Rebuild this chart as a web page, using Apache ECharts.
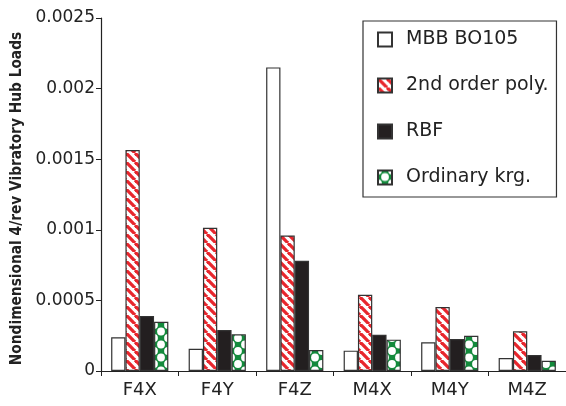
<!DOCTYPE html>
<html><head><meta charset="utf-8">
<script src="https://cdn.jsdelivr.net/npm/echarts@6/dist/echarts.min.js"></script>
<style>html,body{margin:0;padding:0;background:#fff}#c{width:566px;height:406px}</style>
</head><body><div id="c"></div>
<script>
const categories = ['F4X','F4Y','F4Z','M4X','M4Y','M4Z'];
const mbb = [0.000239, 0.000158, 0.00215, 0.000144, 0.000203, 0.000092];
const poly2 = [0.001565, 0.001015, 0.00096, 0.00054, 0.000453, 0.000281];
const rbf = [0.00039, 0.00029, 0.00078, 0.000257, 0.000227, 0.000113];
const krg = [0.000349, 0.00026, 0.000149, 0.000222, 0.00025, 0.000073];
const seriesNames = ['MBB BO105','2nd order poly.','RBF','Ordinary krg.'];
const yTickLabels = ['0','0.0005','0.001','0.0015','0.002','0.0025'];

function stripePattern(){
  const c = document.createElement('canvas'); c.width = 9; c.height = 9;
  const g = c.getContext('2d');
  g.fillStyle = '#fff'; g.fillRect(0,0,9,9);
  g.strokeStyle = '#e8262d'; g.lineWidth = 3.3;
  for (let k=-18;k<=18;k+=9){ g.beginPath(); g.moveTo(k,0); g.lineTo(k+9,9); g.stroke(); }
  return c;
}
function dotPattern(){
  const c = document.createElement('canvas'); c.width = 14; c.height = 13;
  const g = c.getContext('2d');
  g.fillStyle = '#138a3c'; g.fillRect(0,0,14,13);
  g.fillStyle = '#fff';
  const d = (x,y)=>{ g.beginPath(); g.arc(x,y,3.9,0,Math.PI*2); g.fill(); };
  d(7,6.5); d(0,0); d(14,0); d(0,13); d(14,13);
  return c;
}
const stripe = {image: stripePattern(), repeat: 'repeat'};
const dots = {image: dotPattern(), repeat: 'repeat'};
const border = {borderColor: '#333', borderWidth: 1.2};

const chart = echarts.init(document.getElementById('c'), null, {renderer: 'canvas'});
const mk = (name, data, color) => ({
  name, type: 'bar', data, barWidth: 14.3, barGap: '0%',
  itemStyle: Object.assign({color}, border), animation: false
});
chart.setOption({
  animation: false,
  textStyle: {fontFamily: 'DejaVu Sans'},
  grid: {left: 101, top: 18, bottom: 35, width: 470, containLabel: false},
  legend: {
    orient: 'vertical', left: 363, top: 21,
    padding: [9, 8, 10, 14], itemGap: 27, itemWidth: 14, itemHeight: 14,
    backgroundColor: '#fff', borderColor: '#333', borderWidth: 1.2,
    textStyle: {fontSize: 19, color: '#222', fontFamily: 'DejaVu Sans', padding: [0,0,0,9]},
    data: seriesNames.map(n => ({name: n, icon: 'rect'}))
  },
  xAxis: {
    type: 'category', data: categories,
    axisLine: {lineStyle: {color: '#222', width: 1.2}},
    axisTick: {show: true, length: 5, lineStyle: {color: '#222'}},
    axisLabel: {fontSize: 18, color: '#222', margin: 10}
  },
  yAxis: {
    type: 'value', min: 0, max: 0.0025, interval: 0.0005,
    name: 'Nondimensional 4/rev Vibratory Hub Loads', nameLocation: 'middle', nameGap: 76, nameRotate: 90,
    nameMoveOverlap: false,
    nameTextStyle: {fontSize: 15.3, fontWeight: 'bold', color: '#222', fontFamily: 'DejaVu Sans Condensed, Liberation Sans', padding: [0,0,0,-8]},
    axisLine: {show: true, lineStyle: {color: '#222', width: 1.2}},
    axisTick: {show: true, length: 5, lineStyle: {color: '#222'}},
    splitLine: {show: false},
    axisLabel: {fontSize: 17, color: '#222', margin: 6,
      formatter: (v) => yTickLabels[Math.round(v / 0.0005)]}
  },
  series: [
    mk(seriesNames[0], mbb, '#fff'),
    mk(seriesNames[1], poly2, stripe),
    mk(seriesNames[2], rbf, '#231f20'),
    mk(seriesNames[3], krg, dots)
  ]
});
</script></body></html>
